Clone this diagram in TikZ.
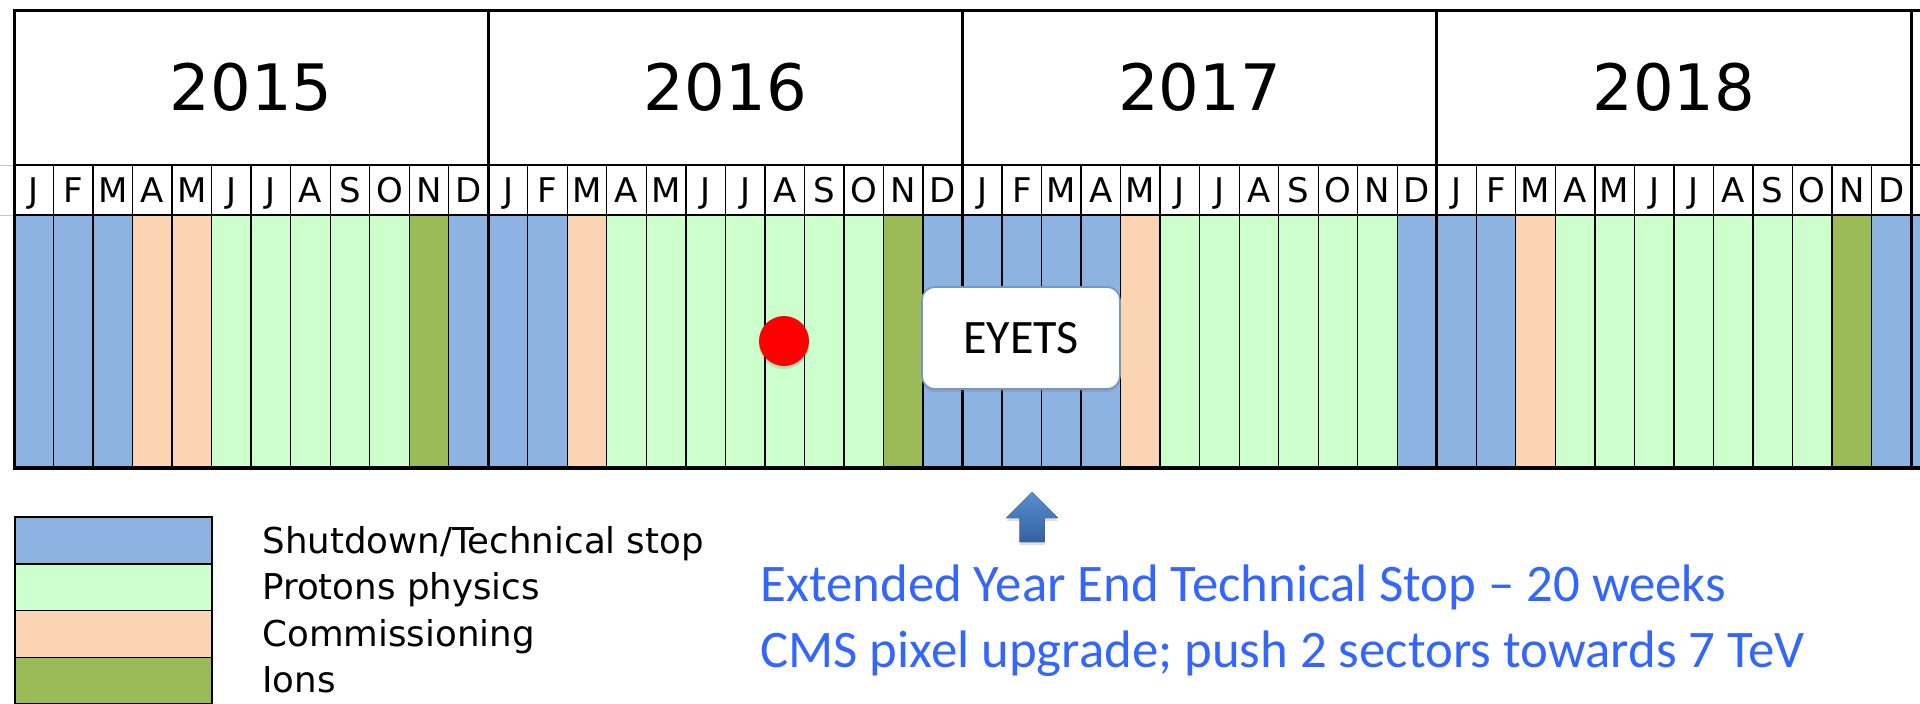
\documentclass[tikz,border=0pt]{standalone}
\usepackage{fontspec}
\setmainfont{DejaVu Sans}
\newfontfamily\calibri{Carlito}
\usetikzlibrary{shapes.arrows,shadows,positioning,calc}

\definecolor{lhcstop}{RGB}{141,179,226}
\definecolor{lhcproton}{RGB}{204,255,204}
\definecolor{lhccomm}{RGB}{251,212,180}
\definecolor{lhcion}{RGB}{155,187,89}
\definecolor{notecol}{RGB}{51,102,255}
\definecolor{boxedge}{RGB}{120,150,195}
\definecolor{arrowtop}{RGB}{88,142,208}
\definecolor{arrowbottom}{RGB}{52,98,160}

\tikzset{
  yearline/.style={line width=1.5pt},
  monthline/.style={line width=0.65pt},
  yearlabel/.style={anchor=base, inner sep=0pt, font=\fontsize{32}{38}\selectfont},
  monthlabel/.style={anchor=base, inner sep=0pt, font=\fontsize{17}{20}\selectfont},
  legendbox/.style={draw=black, line width=0.75pt, outer sep=0pt, inner sep=0pt,
    minimum width=98.5pt, minimum height=23.4pt},
  legendtext/.style={anchor=base west, inner sep=0pt, font=\fontsize{17.8}{21}\selectfont},
  notetext/.style={anchor=base west, inner sep=0pt, text=notecol, font=\calibri\fontsize{26.4}{31}\selectfont}
}

\begin{document}
\begin{tikzpicture}[x=0.5pt, y=-0.5pt]
    \useasboundingbox (0,0) rectangle (1920,703);

    %month cells
    \foreach \c [count=\i from 0] in {
        lhcstop,lhcstop,lhcstop,lhccomm,lhccomm,lhcproton,lhcproton,lhcproton,lhcproton,lhcproton,lhcion,lhcstop,
        lhcstop,lhcstop,lhccomm,lhcproton,lhcproton,lhcproton,lhcproton,lhcproton,lhcproton,lhcproton,lhcion,lhcstop,
        lhcstop,lhcstop,lhcstop,lhcstop,lhccomm,lhcproton,lhcproton,lhcproton,lhcproton,lhcproton,lhcproton,lhcstop,
        lhcstop,lhcstop,lhccomm,lhcproton,lhcproton,lhcproton,lhcproton,lhcproton,lhcproton,lhcproton,lhcion,lhcstop}
        \fill[fill=\c] ({14+\i*39.521},215) rectangle ({14+(\i+1)*39.521},468);
    \fill[lhcstop] (1911,215) rectangle (1920,468);

    %grey lines left of the table
    \draw[gray!45, line width=0.5pt] (0,165) -- (14,165);
    \draw[gray!45, line width=0.5pt] (0,215) -- (14,215);

    %vertical lines
    \foreach \i in {1,...,47}
        \draw[monthline] ({14+\i*39.521},165) -- ({14+\i*39.521},468);
    \foreach \k in {0,...,4}
        \draw[yearline] ({14+\k*474.25},10) -- ({14+\k*474.25},468);

    %horizontal lines
    \draw[yearline] (13,10) -- (1920,10);
    \draw[line width=1.2pt] (14,165) -- (1920,165);
    \draw[line width=1pt] (14,215) -- (1920,215);
    \draw[line width=2pt] (12.5,468) -- (1920,468);

    %years and months
    \foreach \yr [count=\k from 0] in {2015,2016,2017,2018} {
        \node[yearlabel] (y\yr) at ({14+474.25*\k+237.125},110) {\yr};
        \foreach \m [count=\j from 0] in {J,F,M,A,M,J,J,A,S,O,N,D}
            \node[monthlabel] (m\yr-\j) at ({14+474.25*\k+39.521*(\j+0.5)},202) {\m};
    }

    %marker and stop box
    \node[circle, fill=red, minimum size=25pt, inner sep=0pt,
        drop shadow={opacity=0.25, shadow xshift=0pt, shadow yshift=-1.5pt}] (now) at (784,341) {};
    \node[draw=boxedge, fill=white, line width=0.8pt, rounded corners=6.5pt,
        minimum width=99pt, minimum height=51pt, inner sep=0pt,
        font=\calibri\fontsize{24}{28}\selectfont,
        drop shadow={opacity=0.3, shadow xshift=0pt, shadow yshift=-1.5pt}] (eyets) at (1021,338) {EYETS};

    %arrow
    \fill[top color=arrowtop, bottom color=arrowbottom,
        drop shadow={opacity=0.25, shadow xshift=0pt, shadow yshift=-1.5pt}]
        (1032,492) -- (1058,518) -- (1044.5,518) -- (1044.5,542)
        -- (1019.5,542) -- (1019.5,518) -- (1006,518) -- cycle;

    %legend
    \node[legendbox, fill=lhcstop, anchor=north west] (lgstop) at (15,517) {};
    \node[legendbox, fill=lhcproton, below=0pt of lgstop] (lgproton) {};
    \node[legendbox, fill=lhccomm, below=0pt of lgproton] (lgcomm) {};
    \node[legendbox, fill=lhcion, below=0pt of lgcomm] (lgion) {};

    \node[legendtext] (txstop) at (262,553) {Shutdown/Technical stop};
    \node[legendtext] (txproton) at (262,599) {Protons physics};
    \node[legendtext] (txcomm) at (262,646) {Commissioning};
    \node[legendtext] (txion) at (262,692) {Ions};

    %note
    \node[notetext] (note1) at (760,601) {Extended Year End Technical Stop – 20 weeks};
    \node[notetext] (note2) at (760,667) {CMS pixel upgrade; push 2 sectors towards 7 TeV};

\end{tikzpicture}
\end{document}
